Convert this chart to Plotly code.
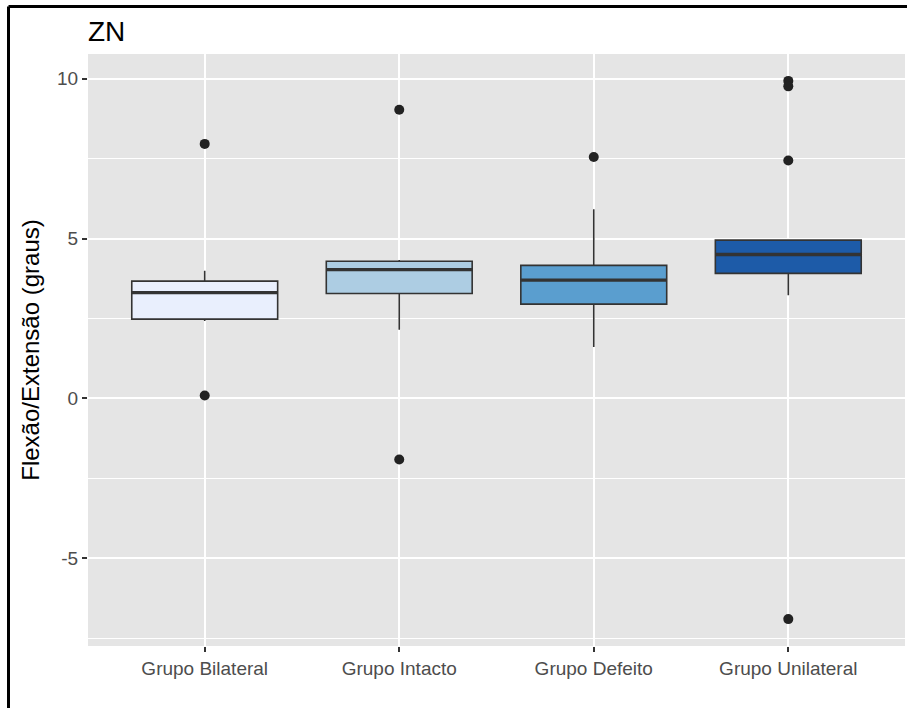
import plotly.graph_objects as go

# Groups and summary statistics (degrees)
groups = ["Grupo Bilateral", "Grupo Intacto", "Grupo Defeito", "Grupo Unilateral"]
q1 = [2.48, 3.28, 2.95, 3.91]
median = [3.31, 4.03, 3.70, 4.50]
q3 = [3.67, 4.29, 4.16, 4.95]
lower_whisker = [2.42, 2.15, 1.61, 3.23]
upper_whisker = [3.99, 4.33, 5.92, 4.95]

# Outlying observations per group
outliers = {
    "Grupo Bilateral": [7.96, 0.09],
    "Grupo Intacto": [9.03, -1.91],
    "Grupo Defeito": [7.55],
    "Grupo Unilateral": [9.93, 9.76, 7.44, -6.90],
}

y_ticks = [-5, 0, 5, 10]
y_tick_labels = ["-5", "0", "5", "10"]

fills = ["#E9EFFD", "#ADCDE3", "#5A9ECF", "#1D5BA8"]
BOX_W = 0.75
EDGE = "#333333"
FONT = "Liberation Sans, Arial, sans-serif"

fig = go.Figure()

for i, g in enumerate(groups):
    fig.add_trace(go.Box(
        x=[i], q1=[q1[i]], median=[median[i]], q3=[q3[i]],
        lowerfence=[lower_whisker[i]], upperfence=[upper_whisker[i]],
        width=BOX_W, whiskerwidth=0, boxpoints=False,
        fillcolor=fills[i], line=dict(color=EDGE, width=1.6),
        showlegend=False, hoverinfo="skip",
    ))

# Thick median bars drawn over each box
mx, my = [], []
for i, m in enumerate(median):
    mx += [i - BOX_W / 2, i + BOX_W / 2, None]
    my += [m, m, None]
fig.add_trace(go.Scatter(x=mx, y=my, mode="lines",
                         line=dict(color=EDGE, width=3.4),
                         showlegend=False, hoverinfo="skip"))

# Outlier points
ox, oy = [], []
for i, g in enumerate(groups):
    for v in outliers[g]:
        ox.append(i)
        oy.append(v)
fig.add_trace(go.Scatter(x=ox, y=oy, mode="markers",
                         marker=dict(color="#222222", size=10),
                         showlegend=False, hoverinfo="skip"))

# Data range with 5% padding on each side
all_vals = lower_whisker + upper_whisker + oy
lo, hi = min(all_vals), max(all_vals)
pad = 0.05 * (hi - lo)

W, H = 907, 708
ML, MR, MT, MB = 88, 2, 54, 62
pw, ph = W - ML - MR, H - MT - MB

fig.update_layout(
    width=W, height=H,
    margin=dict(l=ML, r=MR, t=MT, b=MB, pad=0),
    paper_bgcolor="white",
    plot_bgcolor="#E5E5E5",
    font=dict(family=FONT, color="#4D4D4D"),
    title=dict(text="ZN", x=0, xref="paper", xanchor="left",
               y=1 - 31 / H, yref="container", yanchor="middle",
               font=dict(size=28, color="black", family=FONT)),
    xaxis=dict(
        range=[-0.6, len(groups) - 0.4],
        tickvals=list(range(len(groups))), ticktext=groups,
        showgrid=True, gridcolor="white", gridwidth=2,
        zeroline=False, showline=False,
        ticks="outside", ticklen=5, tickwidth=1.5, tickcolor=EDGE,
        tickfont=dict(size=19, color="#4D4D4D"),
    ),
    yaxis=dict(
        range=[lo - pad, hi + pad],
        tickvals=y_ticks, ticktext=y_tick_labels,
        showgrid=True, gridcolor="white", gridwidth=2,
        minor=dict(dtick=2.5, tick0=0, showgrid=True,
                   gridcolor="white", gridwidth=1),
        zeroline=False, showline=False,
        ticks="outside", ticklen=5, tickwidth=1.5, tickcolor=EDGE,
        tickfont=dict(size=19, color="#4D4D4D"),
        title=dict(text="Flexão/Extensão (graus)",
                   font=dict(size=24, color="black", family=FONT),
                   standoff=10),
    ),
)

# Frame lines along the left and top edges of the figure
x_left = (8.5 - ML) / pw
y_top = 1 + (MT - 6.5) / ph
fig.add_shape(type="line", xref="paper", yref="paper",
              x0=x_left, x1=x_left, y0=y_top, y1=-MB / ph - 0.01,
              line=dict(color="black", width=3))
fig.add_shape(type="line", xref="paper", yref="paper",
              x0=x_left, x1=1 + (MR + 2) / pw, y0=y_top, y1=y_top,
              line=dict(color="black", width=3))

fig.write_html("out.html")
